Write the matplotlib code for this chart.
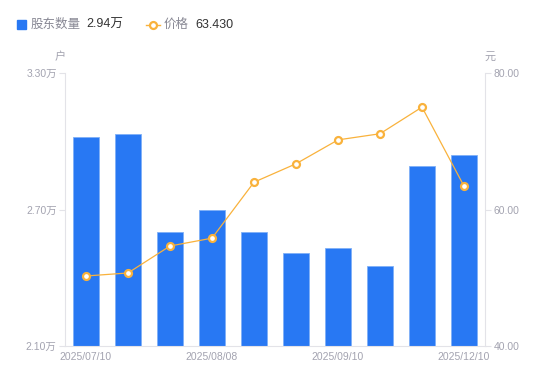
import numpy as np
import matplotlib.pyplot as plt
from matplotlib.lines import Line2D
from matplotlib.patches import Rectangle

plt.rcParams['font.family'] = ['Liberation Sans', 'Noto Sans CJK SC', 'DejaVu Sans']

# data
dates = ['2025/07/10', '2025/07/20', '2025/07/31', '2025/08/08', '2025/08/20',
         '2025/08/29', '2025/09/10', '2025/09/30', '2025/10/31', '2025/12/10']
holders = [3.02, 3.03, 2.60, 2.70, 2.60, 2.51, 2.53, 2.45, 2.89, 2.94]  # 万户
price = [50.26, 50.7, 54.65, 55.8, 64.0, 66.7, 70.2, 71.1, 75.0, 63.43]
shown = [0, 3, 6, 9]

blue = '#2878f3'
orange = '#f9b23c'
grey = '#a3a3b0'
axcol = '#e3e3e8'

fig = plt.figure(figsize=(5.5, 3.81), dpi=100)
ax = fig.add_axes([65/550, 35/381, 420/550, 273/381])
ax2 = ax.twinx()

x = np.arange(len(dates))
ax.bar(x, holders, width=0.6, color=blue, edgecolor='#7fb0f7', linewidth=0.6, bottom=0)
ax.set_ylim(2.10, 3.30)
ax.set_xlim(-0.5, len(dates) - 0.5)
ax.set_yticks([2.10, 2.70, 3.30])
ax.set_yticklabels(['%.2f万' % v for v in [2.10, 2.70, 3.30]])
ax.set_xticks(x[shown])
ax.set_xticklabels([dates[i] for i in shown])

ax2.plot(x, price, color=orange, lw=0.9, marker='o', ms=5, mfc='white',
         mec=orange, mew=1.6, zorder=3)
ax2.set_ylim(40, 80)
ax2.set_yticks([40, 60, 80])
ax2.set_yticklabels(['%.2f' % v for v in [40, 60, 80]])

for a in (ax, ax2):
    for s in a.spines.values():
        s.set_visible(False)
    a.tick_params(colors=grey, labelsize=7.5, length=4, width=0.8)
ax.spines['left'].set_visible(True)
ax.spines['left'].set_color(axcol)
ax.spines['bottom'].set_visible(True)
ax.spines['bottom'].set_color(axcol)
ax2.spines['right'].set_visible(True)
ax2.spines['right'].set_color(axcol)
ax.tick_params(axis='y', color=axcol, labelcolor=grey, pad=2)
ax2.tick_params(axis='y', color=axcol, labelcolor=grey, pad=2)
ax.tick_params(axis='x', length=0, pad=4, labelcolor=grey)

# unit labels
fig.text(60/550, 1 - 57/381, '户', color=grey, fontsize=8, ha='center', va='center')
fig.text(490/550, 1 - 57/381, '元', color=grey, fontsize=8, ha='center', va='center')

# legend
fig.patches.append(Rectangle((17/550, 1 - 29/381), 9/550, 9/381, transform=fig.transFigure,
                             color=blue, figure=fig))
fig.text(31/550, 1 - 25/381, '股东数量', color='#888894', fontsize=9, va='center')
fig.text(86/550, 1 - 25/381, '2.94万', color='#333333', fontsize=9, va='center')
fig.lines.append(Line2D([146/550, 160/550], [1 - 25/381] * 2, transform=fig.transFigure,
                        color=orange, lw=1, marker='o', markevery=[0], ms=0))
fig.lines.append(Line2D([153/550], [1 - 25/381], transform=fig.transFigure,
                        color=orange, marker='o', ms=5, mfc='white', mew=1.6))
fig.text(164/550, 1 - 25/381, '价格', color='#888894', fontsize=9, va='center')
fig.text(195/550, 1 - 25/381, '63.430', color='#333333', fontsize=9, va='center')

fig.savefig('out.png', dpi=100)
